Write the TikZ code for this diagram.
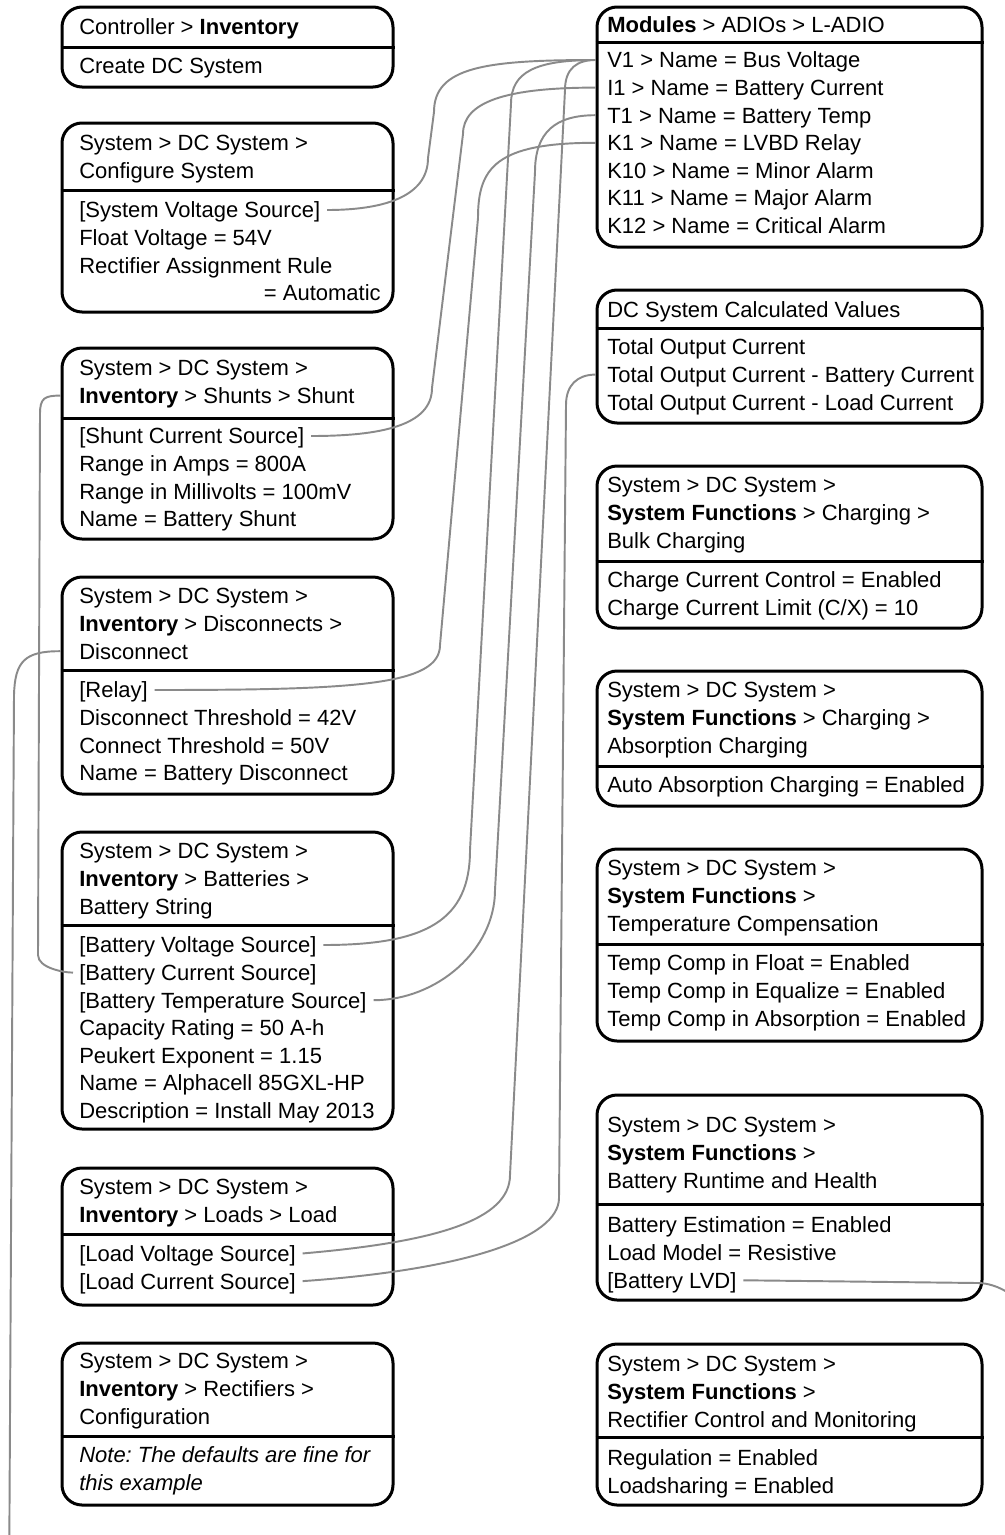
\documentclass[tikz,border=0pt]{standalone}
\usepackage{fontspec}
\setmainfont{Liberation Sans}
\usetikzlibrary{fit}
\frenchspacing

\definecolor{wiregray}{RGB}{138,138,138}

\tikzset{
  panel/.style={draw=black, line width=2.25pt, rounded corners=15pt, inner sep=0pt},
  divider/.style={draw=black, line width=2.25pt},
  txt/.style={anchor=west, inner sep=0pt, text height=11.8pt, text depth=0pt,
              font=\fontsize{16.5pt}{20.6pt}\selectfont},
  wire/.style={draw=wiregray, line width=1.45pt},
  fromtext/.style={shorten <=5pt},
}

% #1 name, (#2,#3)-(#4,#5) outline, #6 y of the header/body divider
\newcommand{\panelbox}[6]{%
  \node[panel, fit={(#2,#3) (#4,#5)}] (#1) {};
  \draw[divider] (#1.west |- 0,#6) -- (#1.east |- 0,#6);}

% #1 name prefix, #2 x, #3 y of the first row, #4 list of rows
\newcommand{\textrows}[4]{%
  \foreach \rowtext [count=\i] in {#4} {\node[txt] (#1\i) at (#2,{#3+27.6*(\i-1)}) {\rowtext};}}

\begin{document}
\begin{tikzpicture}[x=0.75pt,y=-0.75pt]
\useasboundingbox (0,0) rectangle (1005,1535);
\clip (0,0) rectangle (1005,1535);
\fill[white] (0,0) rectangle (1005,1535);

% ---------------- left column ----------------
\panelbox{ctl}{62}{7}{393}{87}{47}
\textrows{ctlH}{79}{27}{Controller > \textbf{Inventory}}
\textrows{ctlB}{79}{66}{Create DC System}

\panelbox{cfg}{62}{123}{393}{312}{190}
\textrows{cfgH}{79}{143}{System > DC System >, Configure System}
\textrows{cfgB}{79}{210}{[System Voltage Source], Float Voltage = 54V, Rectifier Assignment Rule}
\node[txt, anchor=east] (cfgAuto) at (381,292.8) {= Automatic};

\panelbox{shu}{62}{348}{393}{539}{418}
\textrows{shuH}{79}{368}{System > DC System >, \textbf{Inventory} > Shunts > Shunt}
\textrows{shuB}{79}{436}{[Shunt Current Source], Range in Amps = 800A, Range in Millivolts = 100mV, Name = Battery Shunt}

\panelbox{dis}{62}{577}{393}{794}{670}
\textrows{disH}{79}{596}{System > DC System >, \textbf{Inventory} > Disconnects >, Disconnect}
\textrows{disB}{79}{690}{[Relay], Disconnect Threshold = 42V, Connect Threshold = 50V, Name = Battery Disconnect}

\panelbox{bat}{62}{832}{393}{1129}{925}
\textrows{batH}{79}{851}{System > DC System >, \textbf{Inventory} > Batteries >, Battery String}
\textrows{batB}{79}{945}{[Battery Voltage Source], [Battery Current Source], [Battery Temperature Source], Capacity Rating = 50 A-h, Peukert Exponent = 1.15, Name = Alphacell 85GXL-HP, Description = Install May 2013}

\panelbox{lod}{62}{1168}{393}{1305}{1234}
\textrows{lodH}{79}{1187}{System > DC System >, \textbf{Inventory} > Loads > Load}
\textrows{lodB}{79}{1254}{[Load Voltage Source], [Load Current Source]}

\panelbox{rec}{62}{1343}{393}{1505}{1436}
\textrows{recH}{79}{1361}{System > DC System >, \textbf{Inventory} > Rectifiers >, Configuration}
\textrows{recB}{79}{1455}{\textit{Note: The defaults are fine for}, \textit{this example}}

% ---------------- right column ----------------
\panelbox{adio}{597}{7}{982}{247}{42}
\textrows{adioH}{607}{25}{\textbf{Modules} > ADIOs > L-ADIO}
\textrows{adioB}{607}{60}{V1 > Name = Bus Voltage, I1 > Name = Battery Current, T1 > Name = Battery Temp, K1 > Name = LVBD Relay, K10 > Name = Minor Alarm, K11 > Name = Major Alarm, K12 > Name = Critical Alarm}

\panelbox{calc}{597}{290}{982}{423}{328}
\textrows{calcH}{607}{310}{DC System Calculated Values}
\textrows{calcB}{607}{347}{Total Output Current, Total Output Current - Battery Current, Total Output Current - Load Current}

\panelbox{bulk}{597}{466}{982}{628}{561}
\textrows{bulkH}{607}{485}{System > DC System >, \textbf{System Functions} > Charging >, Bulk Charging}
\textrows{bulkB}{607}{580}{Charge Current Control = Enabled, Charge Current Limit (C/X) = 10}

\panelbox{abs}{597}{671}{982}{806}{766}
\textrows{absH}{607}{690}{System > DC System >, \textbf{System Functions} > Charging >, Absorption Charging}
\textrows{absB}{607}{785}{Auto Absorption Charging = Enabled}

\panelbox{tcomp}{597}{849}{982}{1041}{944}
\textrows{tcompH}{607}{868}{System > DC System >, \textbf{System Functions} >, Temperature Compensation}
\textrows{tcompB}{607}{963}{Temp Comp in Float = Enabled, Temp Comp in Equalize = Enabled, Temp Comp in Absorption = Enabled}

\panelbox{rt}{597}{1095}{982}{1300}{1204}
\textrows{rtH}{607}{1125}{System > DC System >, \textbf{System Functions} >, Battery Runtime and Health}
\textrows{rtB}{607}{1225}{Battery Estimation = Enabled, Load Model = Resistive, [Battery LVD]}

\panelbox{rcm}{597}{1344}{982}{1505}{1437}
\textrows{rcmH}{607}{1364}{System > DC System >, \textbf{System Functions} >, Rectifier Control and Monitoring}
\textrows{rcmB}{607}{1458}{Regulation = Enabled, Loadsharing = Enabled}

% ---------------- source links ----------------
% System Voltage Source -> V1
\draw[wire,fromtext] (cfgB1.east) .. controls +(60,0) and +(0,40) .. (428,158)
  -- (434,112) .. controls +(0,-45) and +(-110,0) .. (adioB1 -| adio.west);
% Shunt Current Source -> I1
\draw[wire,fromtext] (shuB1.east) .. controls +(75,0) and +(0,38) .. (432,388)
  -- (463,134) .. controls +(0,-32) and +(-90,0) .. (adioB2 -| adio.west);
% Relay -> K1
\draw[wire,fromtext] (disB1.east) .. controls +(210,0) and +(0,40) .. (440,645)
  -- (478,218) .. controls +(0,-50) and +(-100,0) .. (adioB4 -| adio.west);
% Battery Voltage Source -> V1
\draw[wire,fromtext] (batB1.east) .. controls +(110,0) and +(0,70) .. (470,850)
  -- (511,104) .. controls +(0,-32) and +(-60,0) .. (adioB1 -| adio.west);
% Battery Temperature Source -> T1
\draw[wire,fromtext] (batB3.east) .. controls +(70,0) and +(0,60) .. (495,890)
  -- (535,172) .. controls +(0,-40) and +(-40,0) .. (adioB3 -| adio.west);
% Load Voltage Source -> V1
\draw[wire,fromtext] (lodB1.east) .. controls +(140,-12) and +(0,45) .. (510,1175)
  -- (565,90) .. controls +(0,-22) and +(-18,0) .. (adioB1 -| adio.west);
% Load Current Source -> Total Output Current - Battery Current
\draw[wire,fromtext] (lodB2.east) .. controls +(170,-12) and +(0,40) .. (559,1198)
  -- (566,405) .. controls +(0,-20) and +(-18,0) .. (calcB2 -| calc.west);
% Shunt -> Battery Current Source
\draw[wire,shorten >=4.5pt] (shuH2 -| shu.west) .. controls +(-16,0) and +(0,-16) .. (40,414)
  -- (38,955) .. controls +(0,13) and +(-15,0) .. (batB2.west);
% Battery LVD -> Disconnect, routed round the outside of the sheet
\draw[wire,fromtext] (rtB3.east) -- (978,1283) .. controls (995,1283) and (1025,1295) .. (1035,1330)
  -- (1035,1600) -- (9,1600) -- (14,695) .. controls (15,662) and (24,651) .. (disH3 -| dis.west);

\end{tikzpicture}
\end{document}
